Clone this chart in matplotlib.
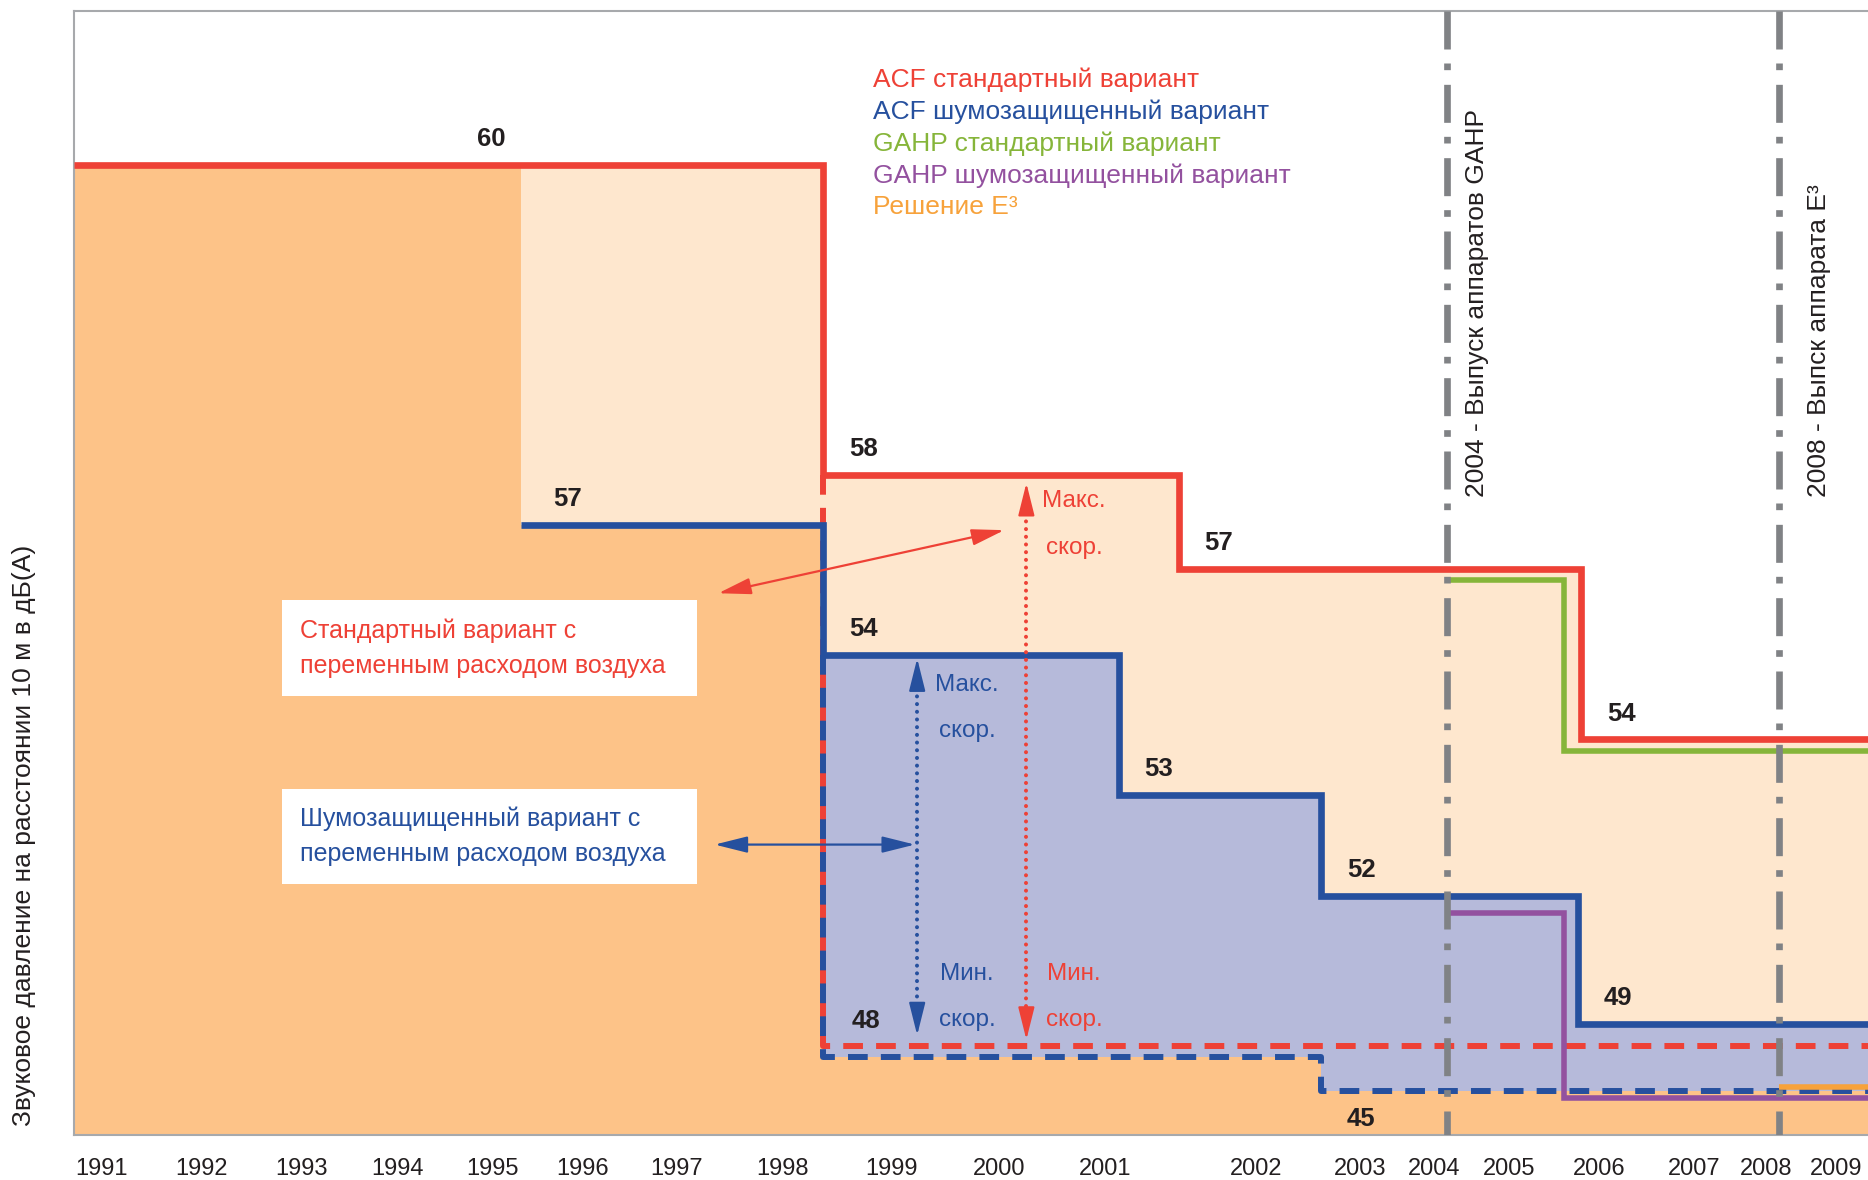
import numpy as np
import matplotlib
matplotlib.use('Agg')
import matplotlib.pyplot as plt
from matplotlib.patches import Rectangle
from matplotlib.transforms import ScaledTranslation

plt.rcParams['font.family'] = ['Liberation Sans', 'DejaVu Sans']

# ---- data -------------------------------------------------------------
# x in years; y is the schematic height of each step (0 = bottom, 100 = top
# of the frame), the drawing is not to scale, so dB values are only labels
years = list(range(1991, 2010))

acf_std_start = [1990.6, 1998.25, 2001.4, 2005.66]
acf_std_level = [86.3, 58.7, 50.4, 35.2]
acf_std_db = [60, 58, 57, 54]

acf_quiet_start = [1995.18, 1998.25, 2001.0, 2002.5, 2005.62]
acf_quiet_level = [54.3, 42.7, 30.3, 21.3, 9.9]
acf_quiet_db = [57, 54, 53, 52, 49]

acf_std_min_start = [1998.25]
acf_std_min_level = [7.9]
acf_quiet_min_start = [1998.25, 2002.5]
acf_quiet_min_level = [7.0, 3.9]
min_db = [48, 45]

gahp_std_start = [2004.0, 2005.47]
gahp_std_level = [49.4, 34.2]
gahp_quiet_start = [2004.0, 2005.47]
gahp_quiet_level = [19.8, 3.3]
e3_start = [2008.0]
e3_level = [4.3]

events = [2004, 2008]
event_labels = ['2004 - Выпуск аппаратов GAHP', '2008 - Выпск аппарата E³']

legend_labels = ['ACF стандартный вариант', 'ACF шумозащищенный вариант',
                 'GAHP стандартный вариант', 'GAHP шумозащищенный вариант',
                 'Решение E³']

RED = '#EE4136'
BLUE = '#26509E'
GREEN = '#86B53A'
PURPLE = '#93519F'
ORANGE = '#F7A23B'
DARK_FILL = '#FDC388'
LIGHT_FILL = '#FEE7CE'
LAV_FILL = '#B6BADA'
GREY = '#808285'
INK = '#231F20'

# ---- hand-drawn (uneven) year axis ------------------------------------
knot_years = np.array([1980] + years + [2020], dtype=float)
knot_px = np.array([-828, 96, 180, 264, 345, 424, 500, 579, 668, 759, 850, 939,
                    1065, 1153, 1215, 1278, 1353, 1433, 1493, 1552, 2201], dtype=float)


def fwd(x):
    return np.interp(x, knot_years, knot_px)


def inv(p):
    return np.interp(p, knot_px, knot_years)


X_END = float(inv(1568))


def steps(start, level):
    return list(start) + [X_END], list(level) + [level[-1]]


HEAD = '-|>,head_length=2.0,head_width=0.5'


def head(ax, tip, tail, color, coords='data', shrink=0):
    ax.annotate('', xy=tip, xytext=tail, xycoords=coords,
                arrowprops=dict(arrowstyle=HEAD, color=color, lw=1.6, shrinkA=0,
                                shrinkB=shrink, mutation_scale=10), zorder=7)


fig = plt.figure(figsize=(18.68, 11.80), dpi=100)
ax = fig.add_axes([0.0395, 0.0379, 0.9605, 0.953])
ax.set_xscale('function', functions=(fwd, inv))
ax.set_xlim(float(inv(62)), X_END)
ax.set_ylim(0, 100)

# fills
x, y = steps(acf_std_start, acf_std_level)
ax.fill_between(x, 0, y, step='post', color=LIGHT_FILL, lw=0, zorder=1)
x, y = steps(acf_quiet_start, acf_quiet_level)
ax.fill_between(x, 0, y, step='post', color=LAV_FILL, lw=0, zorder=1.1)
env_x = [acf_std_start[0], acf_quiet_start[0]] + acf_quiet_min_start + [X_END]
env_y = [acf_std_level[0], acf_quiet_level[0]] + acf_quiet_min_level + [acf_quiet_min_level[-1]]
ax.fill_between(env_x, 0, env_y, step='post', color=DARK_FILL, lw=0, zorder=1.2)

# minimum-speed dashed lines (drop from the solid line at the split)
x, y = steps(acf_std_min_start, acf_std_min_level)
ax.plot([x[0]] + x, [acf_std_level[1]] + y, drawstyle='steps-post', color=RED,
        lw=4.3, dashes=(3.3, 2.2), zorder=3)
x, y = steps(acf_quiet_min_start, acf_quiet_min_level)
ax.plot([x[0]] + x, [acf_quiet_level[1]] + y, drawstyle='steps-post', color=BLUE,
        lw=4.3, dashes=(3.3, 2.2), zorder=3.1)

line_kw = dict(drawstyle='steps-post', solid_joinstyle='miter', solid_capstyle='butt')
h_std, = ax.plot(*steps(acf_std_start, acf_std_level), color=RED, lw=4.8, zorder=4, **line_kw)
h_quiet, = ax.plot(*steps(acf_quiet_start, acf_quiet_level), color=BLUE, lw=4.8, zorder=4, **line_kw)
h_gstd, = ax.plot(*steps(gahp_std_start, gahp_std_level), color=GREEN, lw=4.0, zorder=4, **line_kw)
h_gquiet, = ax.plot(*steps(gahp_quiet_start, gahp_quiet_level), color=PURPLE, lw=4.0, zorder=3.5, **line_kw)
h_e3, = ax.plot(*steps(e3_start, e3_level), color=ORANGE, lw=4.0, zorder=4, **line_kw)

for e in events:
    ax.plot([e, e], [100, 0], color=GREY, lw=4.8, dashes=(5.7, 2.1, 1.0, 2.2), zorder=5)

for e, lab, dx in zip(events, event_labels, [21.5, 29]):
    ax.annotate(lab, xy=(e, 56.8), xytext=(dx, 0), textcoords='offset points',
                rotation=90, ha='center', va='bottom', fontsize=19, color=INK, zorder=6)

# value labels
lab_kw = dict(textcoords='offset points', ha='center', va='center', fontsize=18.5,
              fontweight='bold', color=INK, zorder=6)
for xs, lv, dbs in [(acf_std_start, acf_std_level, acf_std_db),
                    (acf_quiet_start, acf_quiet_level, acf_quiet_db)]:
    for i, (xx, yy, d) in enumerate(zip(xs, lv, dbs)):
        if xs is acf_std_start and i == 0:
            ax.annotate(str(d), xy=(acf_quiet_start[0], yy), xytext=(-21.5, 18.5), **lab_kw)
        elif xs is acf_quiet_start and i == 0:
            ax.annotate(str(d), xy=(xx, yy), xytext=(33, 18.5), **lab_kw)
        else:
            ax.annotate(str(d), xy=(xx, yy), xytext=(29, 18.5), **lab_kw)
ax.annotate(str(min_db[0]), xy=(acf_std_min_start[0], acf_std_min_level[0]), xytext=(31, 18.5), **lab_kw)
ax.annotate(str(min_db[1]), xy=(acf_quiet_min_start[1], acf_quiet_min_level[1]), xytext=(29, -19.5), **lab_kw)

# legend
ax.legend(handles=[h_std, h_quiet, h_gstd, h_gquiet, h_e3], labels=legend_labels,
          loc='upper left', bbox_to_anchor=(0.4454, 0.9495), frameon=False,
          handlelength=0, handletextpad=0, borderpad=0, borderaxespad=0,
          labelspacing=0.28, fontsize=19, labelcolor='linecolor')

# explanation boxes
for y0, txt, col in [(0.3909, 'Стандартный вариант с\nпеременным расходом воздуха', RED),
                     (0.2235, 'Шумозащищенный вариант с\nпеременным расходом воздуха', BLUE)]:
    ax.add_patch(Rectangle((0.1162, y0), 0.2311, 0.0847, transform=ax.transAxes,
                           facecolor='white', edgecolor='none', zorder=6))
    ax.text(0.1262, y0 + 0.0847 / 2, txt, transform=ax.transAxes, ha='left', va='center',
            fontsize=18, color=col, linespacing=1.55, zorder=7)

# pointers from the boxes (double-headed)
for p0, p1, col in [((0.3592, 0.4820), (0.5186, 0.5381), RED),
                    ((0.3572, 0.2585), (0.4688, 0.2585), BLUE)]:
    ax.annotate('', xy=p1, xytext=p0, xycoords='axes fraction',
                arrowprops=dict(arrowstyle='<|-|>,head_length=2.0,head_width=0.5', color=col,
                                lw=1.6, shrinkA=0, shrinkB=0, mutation_scale=10), zorder=7)

# speed range arrows: dotted shaft, solid heads
for xx, top, bot, col, gap_top, gap_bot in [
        (2000.13, acf_std_level[1], acf_std_min_level[0], RED, 0.7, 0.6),
        (1999.12, acf_quiet_level[1], acf_quiet_min_level[0], BLUE, 0.3, 1.9)]:
    y_top, y_bot = top - gap_top, bot + gap_bot
    ax.plot([xx, xx], [y_top - 2, y_bot + 2], color=col, lw=2.9, linestyle=(0, (0.01, 1.9)),
            dash_capstyle='round', zorder=7)
    head(ax, (xx, y_top), (xx, y_top - 2.2), col)
    head(ax, (xx, y_bot), (xx, y_bot + 2.2), col)

for xx, yy, txt, col in [(2000.58, 54.3, 'Макс.\nскор.', RED), (1999.58, 38.0, 'Макс.\nскор.', BLUE),
                         (1999.58, 12.3, 'Мин.\nскор.', BLUE), (2000.58, 12.3, 'Мин.\nскор.', RED)]:
    ax.text(xx, yy, txt, ha='center', va='center', fontsize=17.5, color=col,
            linespacing=2.45, zorder=7)

# axes cosmetics
ax.set_xticks(years)
ax.set_xticklabels([str(y) for y in years])
ax.set_yticks([])
ax.tick_params(axis='x', length=0, pad=16, labelsize=17, labelcolor=INK)
shift = ScaledTranslation(-0.13, 0, fig.dpi_scale_trans)
for t in ax.get_xticklabels():
    t.set_transform(t.get_transform() + shift)
for s in ['left', 'top', 'bottom']:
    ax.spines[s].set_color('#A7A9AC')
    ax.spines[s].set_linewidth(1.5)
ax.spines['right'].set_visible(False)

fig.text(0.0127, 0.2918, 'Звуковое давление на расстоянии 10 м в дБ(А)', rotation=90,
         ha='center', va='center', fontsize=19, color=INK)

fig.savefig('out.png', dpi=100)
